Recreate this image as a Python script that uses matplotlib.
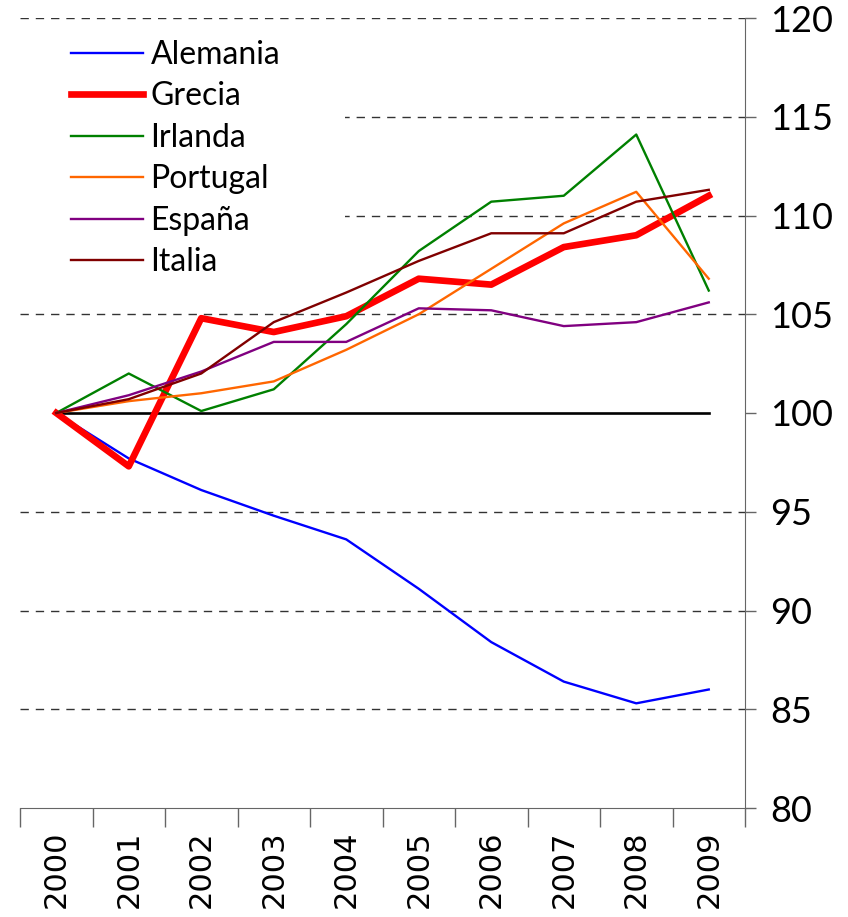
import matplotlib
matplotlib.use('Agg')
import matplotlib.pyplot as plt
from matplotlib.patches import Rectangle
import numpy as np

# Índice 2000 = 100
years = ['2000', '2001', '2002', '2003', '2004', '2005', '2006', '2007', '2008', '2009']
alemania = [100, 97.7, 96.1, 94.8, 93.6, 91.1, 88.4, 86.4, 85.3, 86.0]
grecia = [100, 97.3, 104.8, 104.1, 104.9, 106.8, 106.5, 108.4, 109.0, 111.0]
irlanda = [100, 102.0, 100.1, 101.2, 104.5, 108.2, 110.7, 111.0, 114.1, 106.2]
portugal = [100, 100.6, 101.0, 101.6, 103.2, 105.0, 107.3, 109.6, 111.2, 106.8]
espana = [100, 100.9, 102.1, 103.6, 103.6, 105.3, 105.2, 104.4, 104.6, 105.6]
italia = [100, 100.7, 102.0, 104.6, 106.1, 107.7, 109.1, 109.1, 110.7, 111.3]
base = [100] * len(years)

series = [
    ('Alemania', alemania, '#0000FF', 1.7),
    ('Grecia', grecia, '#FF0000', 4.8),
    ('Irlanda', irlanda, '#008000', 1.7),
    ('Portugal', portugal, '#FF6600', 1.7),
    ('España', espana, '#800080', 1.7),
    ('Italia', italia, '#800000', 1.7),
]

fig = plt.figure(figsize=(8.48, 9.17), dpi=100)
ax = fig.add_axes([20 / 848, 1 - 808 / 917, 725 / 848, 790 / 917])

x = np.arange(len(years))

# gridlines (dashed) except at 100
for v in [85, 90, 95, 105, 110, 115, 120]:
    ax.axhline(v, color='#333333', lw=1.0, ls=(0, (6, 5)), zorder=1)

# white legend area hides the grid behind it
ax.add_patch(Rectangle((20 / 848, 1 - 290 / 917), 325 / 848, 265 / 917,
                       transform=fig.transFigure, facecolor='white',
                       edgecolor='none', zorder=1.5, clip_on=False))

ax.plot(x, base, color='black', lw=1.9, zorder=2)

for name, vals, col, lw in series:
    ax.plot(x, vals, color=col, lw=lw, label=name, zorder=3)

ax.set_xlim(-0.5, 9.5)
ax.set_ylim(80, 120)

ax.spines['top'].set_visible(False)
ax.spines['left'].set_visible(False)
ax.spines['right'].set_color('#666666')
ax.spines['bottom'].set_color('#666666')

ax.yaxis.tick_right()
ax.set_yticks([80, 85, 90, 95, 100, 105, 110, 115, 120])
ax.tick_params(axis='y', which='major', direction='out', length=8, width=1,
               color='#666666', labelsize=26, pad=10)
for lab in ax.get_yticklabels():
    lab.set_family('Lato')

ax.set_xticks(x)
ax.set_xticklabels(years, rotation=90, fontsize=22, family='DejaVu Sans')
ax.tick_params(axis='x', which='major', length=0, pad=16)
ax.set_xticks(np.arange(-0.5, 10, 1), minor=True)
ax.tick_params(axis='x', which='minor', direction='out', length=14, width=1, color='#666666')

leg = ax.legend(loc='upper left', bbox_to_anchor=(42 / 848, 1 - 11 / 917),
                bbox_transform=fig.transFigure, frameon=False,
                handlelength=2.25, handletextpad=0.25, labelspacing=0.36,
                borderaxespad=0.0, borderpad=0.9,
                prop={'family': 'Lato', 'size': 23})
leg.set_zorder(5)

fig.savefig('out.png', dpi=100, facecolor='white')
